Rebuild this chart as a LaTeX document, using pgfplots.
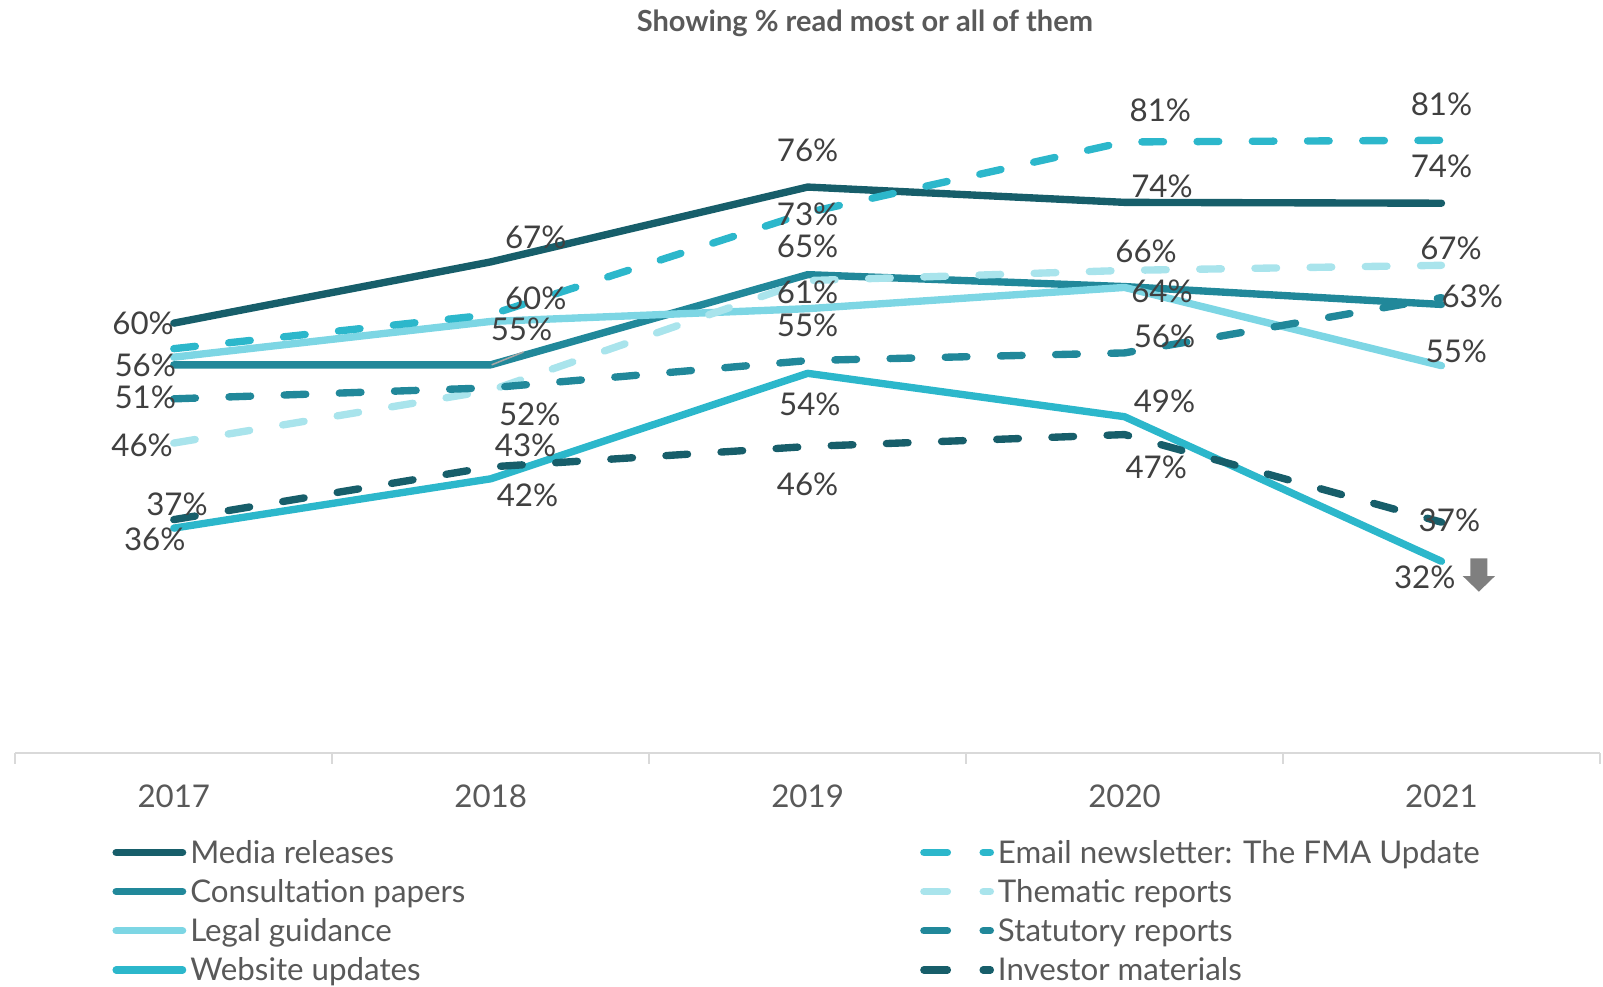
\documentclass[border=0pt]{standalone}
\usepackage{fontspec}
\setmainfont{Lato}
\usepackage{pgfplots}
\pgfplotsset{compat=1.18}
\definecolor{cDark}{HTML}{175E6A}
\definecolor{cMid}{HTML}{21889A}
\definecolor{cLight}{HTML}{7DD6E4}
\definecolor{cBright}{HTML}{2CB7CB}
\definecolor{cPale}{HTML}{A9E4EC}
\definecolor{cAxis}{HTML}{D9D9D9}
\definecolor{cTick}{HTML}{595959}
\definecolor{cLab}{HTML}{404040}
\definecolor{cArrow}{HTML}{7F7F7F}
\pgfplotsset{
  sol/.style={line width=3.6pt, line cap=round, line join=round},
  dsh/.style={sol, dash pattern=on 10.6pt off 16.4pt},
}
\newcommand{\bigf}{\fontsize{15.3}{18}\selectfont}
\begin{document}
\bigf
\begin{tikzpicture}
\path[use as bounding box] (0,0) rectangle (784pt,482.5pt);
\node[anchor=base, font=\fontsize{14.2}{17}\selectfont\bfseries, text=cTick, inner sep=0pt] at (423pt,467.3pt) {Showing \% read most or all of them};
\begin{axis}[
  at={(7.5pt,114pt)}, anchor=south west,
  width=775pt, height=338.5pt, scale only axis,
  xmin=2016.5, xmax=2021.5, ymin=9.41, ymax=90.78,
  axis x line*=bottom, axis y line=none,
  x axis line style={draw=cAxis, line width=1pt},
  xtick={2017,2018,2019,2020,2021},
  xticklabels={2017,2018,2019,2020,2021},
  major tick length=0pt,
  minor xtick={2016.5,2017.5,2018.5,2019.5,2020.5,2021.5},
  minor tick length=5pt, tick align=outside,
  minor tick style={draw=cAxis, line width=1pt},
  major tick style={draw=none},
  xticklabel style={anchor=center, yshift=-20.75pt, text=cTick, font=\bigf, inner sep=0pt},
  clip=false,
  legend columns=2,
  legend image code/.code={\path[draw=none, fill=none] (0pt,0pt) -- (38pt,0pt); \draw[#1] (1.75pt,5.2pt) -- (34.25pt,5.2pt);},
  legend style={at={(0.06129,-0.12585)}, anchor=north west, draw=none, fill=none,
    inner sep=0pt, outer sep=0pt, column sep=0pt, row sep=5.15pt,
    cells={anchor=base west},
    nodes={inner sep=0pt, text height=11pt, text depth=3pt, text=cTick, font=\bigf}},
]
% solid series
\addplot[sol, cDark, forget plot] coordinates {(2017,60) (2018,67.2) (2019,76) (2020,74.2) (2021,74.1)};
\addplot[sol, cMid, forget plot] coordinates {(2017,55.1) (2018,55.1) (2019,65.7) (2020,64.3) (2021,62.2)};
\addplot[sol, cLight, forget plot] coordinates {(2017,56) (2018,60.2) (2019,61.7) (2020,64.2) (2021,55)};
\addplot[sol, cBright, forget plot] coordinates {(2017,35.9) (2018,41.7) (2019,54.1) (2020,49) (2021,32)};
% dashed series
\addplot[dsh, cBright, forget plot] coordinates {(2017,57.0) (2018,61) (2019,73) (2020,81.3) (2021,81.5)};
\addplot[dsh, cPale, forget plot] coordinates {(2017,45.9) (2018,52.1) (2019,65) (2020,66.2) (2021,66.8)};
\addplot[dsh, cMid, forget plot] coordinates {(2017,51.1) (2018,52.4) (2019,55.6) (2020,56.5) (2021,63)};
\addplot[dsh, cDark, forget plot] coordinates {(2017,36.9) (2018,43.1) (2019,45.5) (2020,46.9) (2021,36.6)};
% leader line
\draw[color=gray!70, line width=0.75pt] (axis cs:2018.003,55.1) -- (axis cs:2018.103,56.6);
% data labels
\addplot[draw=none, mark=none, forget plot,
  nodes near coords={\pgfplotspointmeta\%}, point meta=explicit symbolic,
  nodes near coords style={anchor=center, inner sep=0pt, text=cLab, font=\bigf}]
  table[meta=l] {
x y l
2016.903 60.0 60
2016.91 55.1 56
2016.91 51.24 51
2016.90 45.6 46
2017.01 38.7 37
2016.94 34.6 36
2018.142 70.1 67
2018.142 62.9 60
2018.097 59.3 55
2018.123 49.3 52
2018.11 45.6 43
2018.116 39.8 42
2019 80.3 76
2019 72.8 73
2019 69.0 65
2019 63.6 61
2019 59.7 55
2019.007 50.5 54
2019 41.1 46
2020.113 85.0 81
2020.118 76.05 74
2020.068 68.4 66
2020.118 63.8 64
2020.126 58.5 56
2020.126 50.8 49
2020.1 43.05 47
2021.0 85.75 81
2021.0 78.4 74
2021.03 68.8 67
2021.097 63.1 63
2021.047 56.65 55
2021.025 36.8 37
2020.947 30.1 32
};
% down arrow
\fill[cArrow] (axis cs:2021.091,32.35) -- (axis cs:2021.145,32.35) -- (axis cs:2021.145,30.27) -- (axis cs:2021.169,30.27) -- (axis cs:2021.118,28.43) -- (axis cs:2021.067,30.27) -- (axis cs:2021.091,30.27) -- cycle;
% legend
\addlegendimage{sol, cDark}\addlegendentry{\makebox[357pt][l]{Media releases}}
\addlegendimage{dsh, cBright, dash pattern=on 11.5pt off 17.5pt}\addlegendentry{Email newsletter: The FMA Update}
\addlegendimage{sol, cMid}\addlegendentry{\makebox[357pt][l]{Consultation papers}}
\addlegendimage{dsh, cPale, dash pattern=on 11.5pt off 17.5pt}\addlegendentry{Thematic reports}
\addlegendimage{sol, cLight}\addlegendentry{\makebox[357pt][l]{Legal guidance}}
\addlegendimage{dsh, cMid, dash pattern=on 11.5pt off 17.5pt}\addlegendentry{Statutory reports}
\addlegendimage{sol, cBright}\addlegendentry{\makebox[357pt][l]{Website updates}}
\addlegendimage{dsh, cDark, dash pattern=on 11.5pt off 17.5pt}\addlegendentry{Investor materials}
\end{axis}
\end{tikzpicture}
\end{document}
